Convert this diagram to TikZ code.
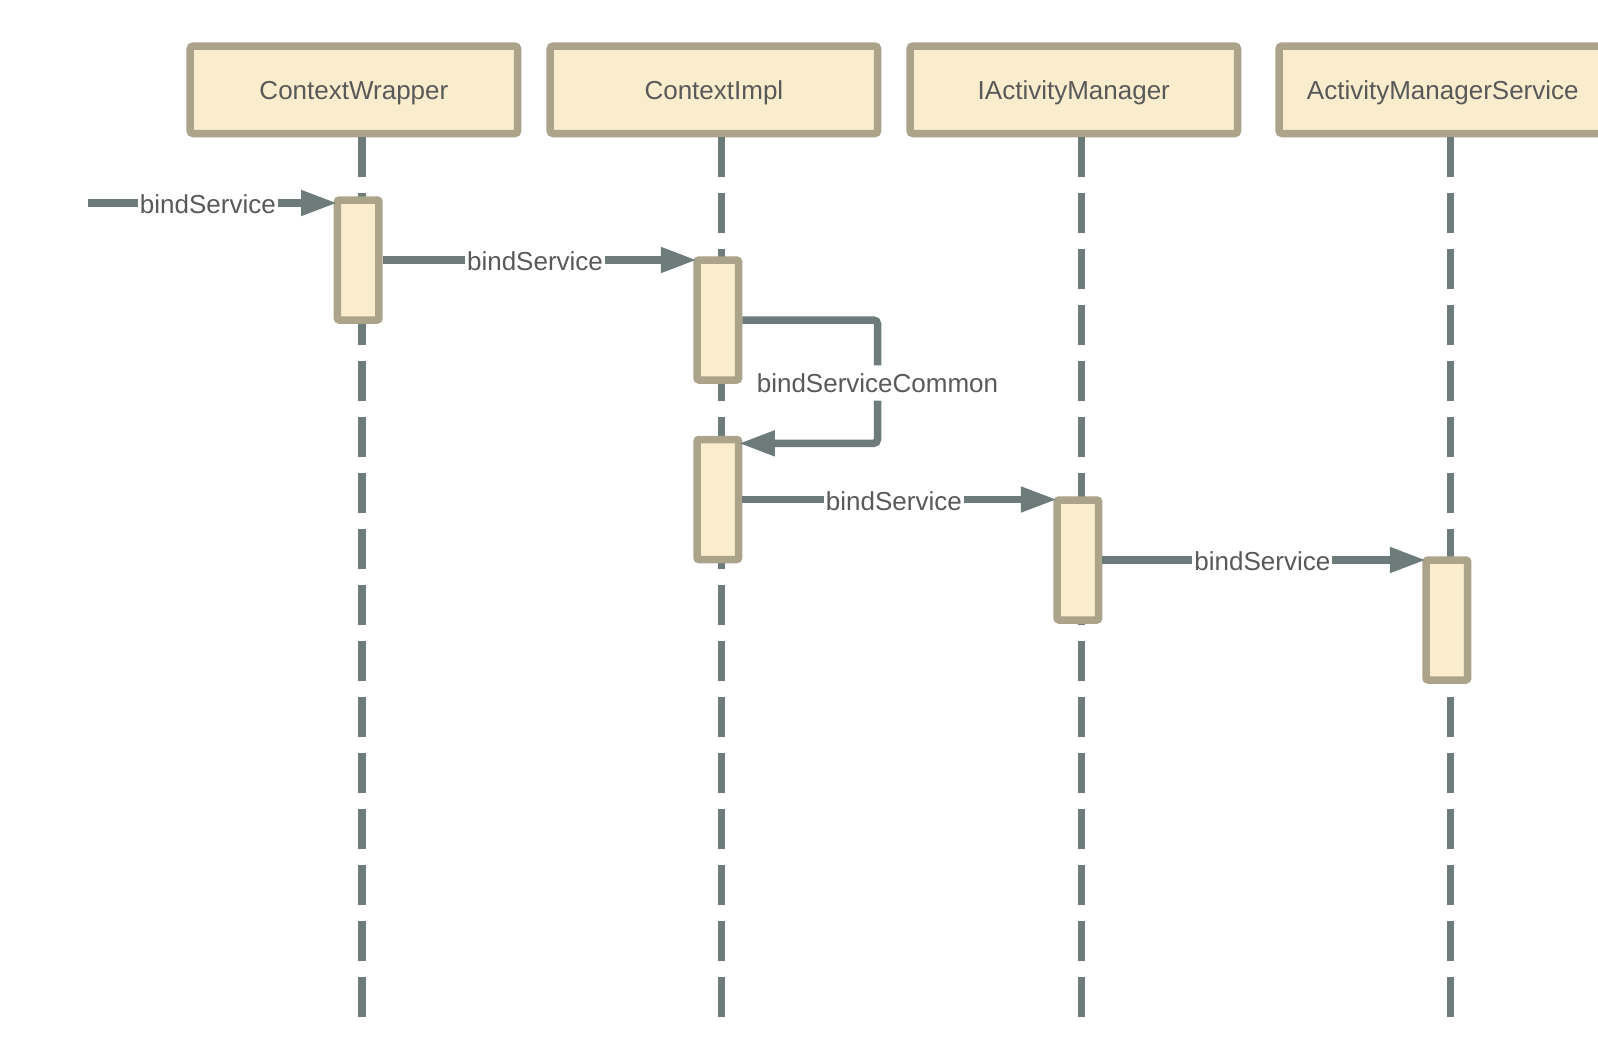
\documentclass[tikz,border=0pt]{standalone}
\usepackage{fontspec}
\setmainfont{Liberation Sans}
\usetikzlibrary{arrows.meta,calc}
\definecolor{boxfill}{RGB}{249,237,206}
\definecolor{boxline}{RGB}{172,164,138}
\definecolor{conn}{RGB}{109,123,122}
\definecolor{txt}{RGB}{89,89,89}
\begin{document}
\begin{tikzpicture}[x=1pt,y=-1pt,
  header/.style={draw=boxline, fill=boxfill, line width=7.5pt, rounded corners=3pt,
    minimum width=327.5pt, minimum height=87.5pt, inner sep=0pt, text=txt,
    font=\fontsize{26}{30}\selectfont, text height=18.6pt, text depth=0pt},
  actbox/.style={draw=boxline, fill=boxfill, line width=7.5pt, rounded corners=2pt,
    minimum width=41.5pt, minimum height=120pt, inner sep=0pt},
  lifeline/.style={draw=conn, line width=7.5pt, dash pattern=on 40pt off 16pt},
  msg/.style={draw=conn, line width=7.5pt, -{Triangle[length=36pt,width=24pt]}, shorten >=-3.5pt},
  lbl/.style={fill=white, text=txt, font=\fontsize{26}{30}\selectfont, inner xsep=2pt, inner ysep=8pt, yshift=-1.5pt}
]
\fill[white] (0,0) rectangle (1598,1050);
\useasboundingbox (0,0) rectangle (1598,1050);

% headers
\node[header] (cw)  at (353.9,89.8)  {ContextWrapper};
\node[header] (ci)  at (713.9,89.8)  {ContextImpl};
\node[header] (iam) at (1073.8,89.8) {IActivityManager};
\node[header] (ams) at (1442.8,89.8) {ActivityManagerService};

% lifeline ends
\coordinate (cwEnd)  at (362,1017);
\coordinate (ciEnd)  at (721.5,1017);
\coordinate (iamEnd) at (1081.5,1017);
\coordinate (amsEnd) at (1450.5,1017);

\draw[lifeline] (cw.south -| cwEnd) -- (cwEnd);
\draw[lifeline] (ci.south -| ciEnd) -- (ciEnd);
\draw[lifeline] (iam.south -| iamEnd) -- (iamEnd);
\draw[lifeline] (ams.south -| amsEnd) -- (amsEnd);

% activations
\node[actbox] (cwa)  at (358.2,260)  {};
\node[actbox] (cia)  at (717.8,320)  {};
\node[actbox] (cib)  at (717.8,499.5) {};
\node[actbox] (iama) at (1077.9,560) {};
\node[actbox] (amsa) at (1446.9,620) {};

% messages
\coordinate (foundStart) at (88,203);
\draw[msg] (foundStart) -- node[lbl, xshift=-3pt]{bindService} (foundStart -| cwa.west);
\coordinate (ciaIn) at ($(cia.north west)+(0,3.75)$);
\draw[msg] (ciaIn -| cwa.east) -- node[lbl, xshift=-3pt]{bindService} (ciaIn);
\coordinate (selfR) at (877.5,381.5);
\draw[msg, rounded corners=4pt] (cia.east) -| (selfR) node[lbl]{bindServiceCommon} |- ($(cib.north east)+(0,7.6)$);
\draw[msg] (cib.east) -- node[lbl, xshift=-4pt]{bindService} (cib.east -| iama.west);
\draw[msg] (iama.east) -- node[lbl]{bindService} (iama.east -| amsa.west);
\end{tikzpicture}
\end{document}
